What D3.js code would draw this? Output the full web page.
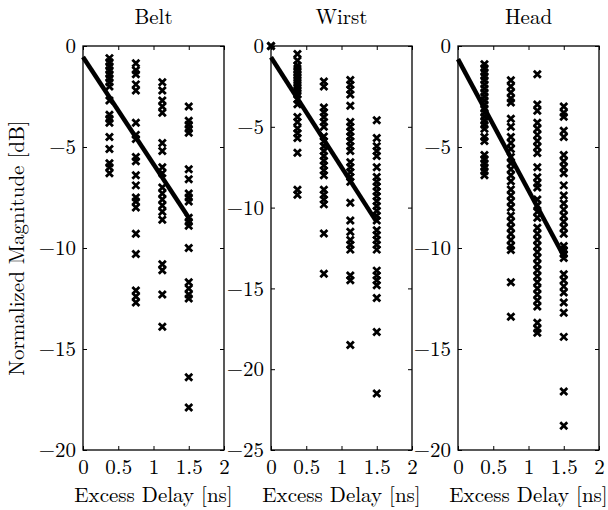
<!DOCTYPE html>
<html><head><meta charset="utf-8">
<script src="https://cdn.jsdelivr.net/npm/d3@7"></script>
<style>
body{margin:0;background:#fff;}
</style></head>
<body><svg id="c" width="608" height="510"></svg>
<script>
const titles = ["Belt", "Wirst", "Head"];
const xTicks = [0, 0.5, 1, 1.5, 2];
const delays = [0, 0.375, 0.75, 1.125, 1.5];
const yMins = [-20, -25, -20];

// magnitudes per delay bin (dB)
const beltValues = [
  [],
  [-0.6,-0.8,-1.0,-1.2,-1.4,-1.6,-1.8,-2.0,-2.7,-3.4,-3.6,-3.8,-4.5,-5.1,-5.8,-6.0,-6.3],
  [-0.85,-1.2,-1.4,-1.9,-2.2,-3.8,-4.4,-4.6,-5.5,-5.7,-6.4,-6.9,-7.5,-7.7,-8.0,-9.3,-10.3,-12.1,-12.4,-12.7],
  [-1.8,-2.2,-2.7,-3.0,-3.3,-4.8,-5.2,-6.0,-6.3,-7.0,-7.3,-7.6,-7.9,-8.2,-8.6,-10.8,-11.1,-12.3,-13.9],
  [-3.0,-3.7,-3.9,-4.1,-4.3,-6.1,-6.6,-7.3,-7.5,-7.7,-8.5,-8.7,-8.9,-10.0,-11.7,-12.0,-12.3,-12.5,-16.4,-17.9]
];
const wirstValues = [
  [0, 0],
  [-0.5,-0.9,-1.2,-1.4,-1.6,-1.8,-2.0,-2.2,-2.4,-2.6,-2.8,-3.0,-3.3,-3.6,-4.4,-4.7,-5.1,-5.4,-5.7,-6.6,-8.9,-9.2],
  [-2.2,-2.5,-3.8,-4.1,-4.4,-4.7,-5.0,-5.6,-5.9,-6.2,-6.5,-6.8,-7.1,-7.4,-7.7,-8.0,-8.9,-9.2,-9.5,-9.8,-11.6,-14.1],
  [-2.1,-2.4,-2.7,-3.0,-3.7,-4.7,-5.0,-5.3,-5.6,-5.9,-6.2,-6.5,-7.2,-7.5,-7.8,-8.1,-8.4,-9.7,-10.8,-11.5,-12.0,-12.3,-12.6,-14.2,-14.5,-18.5],
  [-4.6,-5.7,-6.2,-6.5,-6.8,-7.5,-8.1,-8.4,-8.7,-9.0,-9.3,-9.6,-9.9,-10.2,-10.5,-10.8,-11.4,-11.7,-12.0,-12.3,-12.6,-13.9,-14.2,-14.5,-14.8,-15.6,-17.7,-21.5]
];
const headValues = [
  [],
  [-0.9,-1.1,-1.3,-1.5,-1.7,-1.9,-2.1,-2.3,-2.5,-2.7,-2.9,-3.1,-3.3,-3.5,-3.7,-3.9,-4.1,-4.5,-4.7,-5.4,-5.6,-5.8,-6.0,-6.2,-6.4],
  [-1.7,-2.0,-2.3,-2.6,-2.8,-3.6,-4.0,-4.5,-4.8,-5.1,-5.5,-5.8,-6.1,-6.4,-6.7,-7.1,-7.4,-7.7,-8.0,-8.4,-8.7,-9.0,-9.3,-9.6,-9.9,-10.1,-11.7,-13.4],
  [-1.4,-2.9,-3.2,-3.8,-4.1,-4.4,-4.7,-5.0,-5.3,-6.0,-6.5,-6.8,-7.0,-7.6,-7.9,-8.2,-8.5,-9.0,-9.3,-9.6,-9.9,-10.2,-10.5,-10.8,-11.1,-11.4,-11.7,-12.0,-12.3,-12.6,-12.9,-13.7,-14.0,-14.2],
  [-3.0,-3.3,-3.5,-4.2,-4.5,-5.4,-5.7,-6.0,-6.3,-6.9,-7.4,-7.8,-8.1,-8.4,-8.7,-9.0,-9.3,-9.9,-10.1,-10.3,-10.5,-11.3,-11.6,-11.9,-12.2,-12.7,-13.2,-14.4,-17.1,-18.8]
];
// linear fit endpoints at delay 0 and 1.5 ns
const fitX = [0, 1.5];
const beltFit = [-0.55, -8.5];
const wirstFit = [-0.7, -10.9];
const headFit = [-0.65, -10.4];

const panels = [
  {values: beltValues, fit: beltFit},
  {values: wirstValues, fit: wirstFit},
  {values: headValues, fit: headFit}
];
const lefts = [83, 271, 458];
const pw = 141, plotTop = 46, plotBottom = 450;
const svg = d3.select("#c");
const fs = 21;
const ff = "'Latin Modern Roman', 'Liberation Serif', serif";

panels.forEach((p, i) => {
  const x = d3.scaleLinear().domain([0, 2]).range([lefts[i], lefts[i] + pw]);
  const y = d3.scaleLinear().domain([yMins[i], 0]).range([plotBottom, plotTop]);
  const yTicks = d3.range(yMins[i], 0.001, 5);
  const g = svg.append("g");
  const ax = d3.axisBottom(x).tickValues(xTicks).tickSize(-4).tickFormat(d => String(d)).tickPadding(9);
  const gx = g.append("g").attr("transform", `translate(0,${plotBottom})`).call(ax);
  const ax2 = d3.axisTop(x).tickValues(xTicks).tickSize(-4).tickFormat("");
  const gx2 = g.append("g").attr("transform", `translate(0,${plotTop})`).call(ax2);
  const ay = d3.axisLeft(y).tickValues(yTicks).tickSize(-4).tickFormat(d => String(d).replace("-", "\u2212")).tickPadding(7);
  const gy = g.append("g").attr("transform", `translate(${lefts[i]},0)`).call(ay);
  const ay2 = d3.axisRight(y).tickValues(yTicks).tickSize(-4).tickFormat("");
  const gy2 = g.append("g").attr("transform", `translate(${lefts[i] + pw},0)`).call(ay2);
  [gx, gx2, gy, gy2].forEach(a => {
    a.attr("font-family", null).attr("font-size", null);
    a.select(".domain").remove();
    a.selectAll("line").attr("stroke", "#000").attr("stroke-width", 1);
    a.selectAll("text").style("font-size", fs + "px").style("font-family", ff).attr("fill", "#000");
  });
  g.append("rect").attr("x", lefts[i]).attr("y", plotTop).attr("width", pw).attr("height", plotBottom - plotTop)
    .attr("fill", "none").attr("stroke", "#000").attr("stroke-width", 1.3);

  const pts = [];
  p.values.forEach((col, j) => col.forEach(v => pts.push([delays[j], v])));
  const s = 3.5;
  g.append("g").selectAll("path").data(pts).join("path")
    .attr("d", d => {
      const cx = x(d[0]), cy = y(d[1]);
      return `M${cx - s},${cy - s}L${cx + s},${cy + s}M${cx - s},${cy + s}L${cx + s},${cy - s}`;
    })
    .attr("stroke", "#000").attr("stroke-width", 2.8).attr("fill", "none");

  const line = d3.line().x(d => x(d[0])).y(d => y(d[1]));
  g.append("path").datum(fitX.map((fx, k) => [fx, p.fit[k]])).attr("d", line)
    .attr("stroke", "#000").attr("stroke-width", 4.5).attr("fill", "none");

  g.append("text").attr("x", lefts[i] + pw / 2).attr("y", 24).attr("text-anchor", "middle")
    .style("font-size", fs + "px").style("font-family", ff).text(titles[i]);
  g.append("text").attr("x", lefts[i] + pw / 2).attr("y", 502).attr("text-anchor", "middle")
    .style("font-size", fs + "px").style("font-family", ff).text("Excess Delay [ns]");
});

svg.append("text").attr("transform", `translate(24,${(plotTop + plotBottom) / 2}) rotate(-90)`)
  .attr("text-anchor", "middle").style("font-size", fs + "px").style("font-family", ff)
  .text("Normalized Magnitude [dB]");
</script></body></html>
